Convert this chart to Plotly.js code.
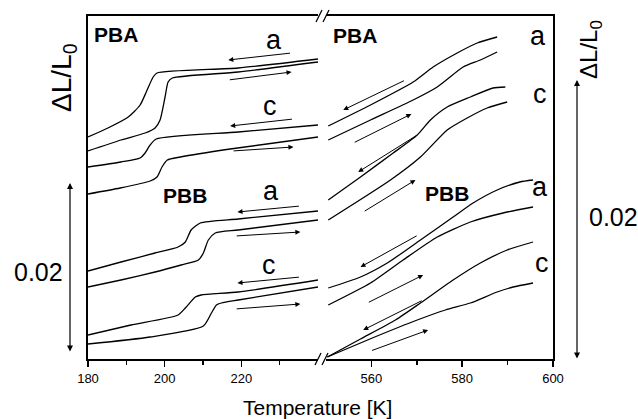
<!DOCTYPE html>
<html><head><meta charset="utf-8">
<script src="https://cdn.plot.ly/plotly-3.0.1.min.js"></script>
<style>html,body{margin:0;padding:0;background:#fff}#chart{width:638px;height:419px}</style>
</head><body><div id="chart"></div>
<script>
// Relative elongation (arbitrary vertical offset units, curves shifted for clarity)
// ---- Low-temperature panel (K) ----
const pbaA_cool_T = [180,185.2,190.5,193.6,195.2,197.0,198.0,219.2,240];
const pbaA_cool_Y = [222,231,242,254,267,282,286,291,300];
const pbaA_heat_T = [180,188.6,194.9,197.5,198.8,200.1,200.9,202.0,219.2,240];
const pbaA_heat_Y = [208,219,226,231,239,262,277,281,287,297];
const pbaC_cool_T = [180,188.6,193.6,194.9,196.2,197.8,219.2,240];
const pbaC_cool_Y = [192,197,201,206,214,220,227,234];
const pbaC_heat_T = [180,188.4,196.2,198.0,199.3,200.7,204.1,217.1,240];
const pbaC_heat_Y = [165,171,178,182,192,199,202,210,222];
const pbbA_cool_T = [180,188.6,197.5,203.5,205.4,206.9,209.3,219.2,240];
const pbbA_cool_Y = [88,97,106,112,117,129,136,140,148];
const pbbA_heat_T = [180,188.6,197.5,204.3,208.8,210.1,211.4,213.2,219.2,240];
const pbbA_heat_Y = [72,79,87,94,99,106,119,126,129,139];
const pbbC_cool_T = [180,191.2,203.5,205.4,208.0,209.5,219.2,240];
const pbbC_cool_Y = [24,34,44,51,62,64,67,79];
const pbbC_heat_T = [180,196.2,210.1,212.2,213.5,214.8,219.2,240];
const pbbC_heat_Y = [15,22,33,46,54,56,59,72];
// ---- High-temperature panel (K) ----
const pbaA_coolH_T = [550.5,559.8,569.2,573.6,578.9,583.3,587.7];
const pbaA_coolH_Y = [233,254,277,292,306,316,322];
const pbaA_heatH_T = [550.5,559.8,569.2,574.5,580.2,584.0,587.7];
const pbaA_heatH_Y = [219,239,259,272,292,299,307];
const pbaC_coolH_T = [550.5,557.6,564.8,570.1,573.0,576.7,581.8,586.8,589.5];
const pbaC_coolH_Y = [159,182,206,224,239,252,262,271,272];
const pbaC_heatH_T = [550.5,564.2,570.8,576.7,581.1,585.5,589.9];
const pbaC_heatH_Y = [139,179,202,229,241,251,257];
const pbbA_coolH_T = [550.5,557.6,563.5,570.8,578.0,582.4,587.7,592.7,595.6];
const pbbA_coolH_Y = [71,82,96,119,142,156,169,177,179];
const pbbA_heatH_T = [550.5,559.8,567.0,574.5,581.8,589.0,595.6];
const pbbA_heatH_Y = [54,76,99,122,137,146,152];
const pbbC_coolH_T = [550.3,557.6,565.3,570.8,578.0,584.0,589.9,595.6];
const pbbC_coolH_Y = [2,20,39,56,79,96,109,117];
const pbbC_heatH_T = [550.3,560.2,570.1,576.3,581.8,587.7,591.2,595.6];
const pbbC_heatH_Y = [2,21,39,49,56,67,72,76];
// Direction arrows: [tailT, tailY, headT, headY]
const arrowsLow = [
  [233.1,306,216.6,299],[216.6,279,233.1,287],
  [233.6,240,217.1,233],[217.6,208,233.6,212],
  [235.4,153,219.0,147],[218.4,123,235.4,127],
  [235.4,82,219.0,76],[218.4,50,235.4,55]
];
const arrowsHigh = [
  [567.5,279,553.8,249],[556.0,216,568.8,245],
  [570.1,224,557.1,187],[558.2,147,569.7,179],
  [570.3,124,557.6,92],[559.1,56,571.4,84],
  [571.4,59,558.2,29],[559.8,8,572.5,29]
];
// Curve labels: [text, T, Y, bold, anchor]
const labelsLow = [["PBA",181,325,true,"left"],["a",228.6,319,false,"center"],["c",227.6,253,false,"center"],
  ["PBB",205.4,164,true,"center"],["a",227.8,168,false,"center"],["c",227.3,94,false,"center"]];
const labelsHigh = [["PBA",556.5,324,true,"center"],["a",596.7,323,false,"center"],["c",597.1,265,false,"center"],
  ["PBB",576.7,166,true,"center"],["a",597.1,172,false,"center"],["c",597.6,96,false,"center"]];
const lowTicks = [180,200,220], lowMinor = [190,210,230];
const highTicks = [560,580,600], highMinor = [570,590];

const FONT = 'Arial, "Liberation Sans", sans-serif';
const ln = {color:'#000', width:1.3, shape:'spline', smoothing:0.6};
function tr(x,y,xa,ya){return {x:x,y:y,mode:'lines',line:ln,xaxis:xa,yaxis:ya,hoverinfo:'skip',showlegend:false};}
const traces = [
  tr(pbaA_cool_T,pbaA_cool_Y,'x','y'),tr(pbaA_heat_T,pbaA_heat_Y,'x','y'),
  tr(pbaC_cool_T,pbaC_cool_Y,'x','y'),tr(pbaC_heat_T,pbaC_heat_Y,'x','y'),
  tr(pbbA_cool_T,pbbA_cool_Y,'x','y'),tr(pbbA_heat_T,pbbA_heat_Y,'x','y'),
  tr(pbbC_cool_T,pbbC_cool_Y,'x','y'),tr(pbbC_heat_T,pbbC_heat_Y,'x','y'),
  tr(pbaA_coolH_T,pbaA_coolH_Y,'x2','y2'),tr(pbaA_heatH_T,pbaA_heatH_Y,'x2','y2'),
  tr(pbaC_coolH_T,pbaC_coolH_Y,'x2','y2'),tr(pbaC_heatH_T,pbaC_heatH_Y,'x2','y2'),
  tr(pbbA_coolH_T,pbbA_coolH_Y,'x2','y2'),tr(pbbA_heatH_T,pbbA_heatH_Y,'x2','y2'),
  tr(pbbC_coolH_T,pbbC_coolH_Y,'x2','y2'),tr(pbbC_heatH_T,pbbC_heatH_Y,'x2','y2')
];
const ann = [];
function addArrows(list,xa,ya){list.forEach(a=>ann.push({xref:xa,yref:ya,axref:xa,ayref:ya,x:a[2],y:a[3],ax:a[0],ay:a[1],
  text:'',showarrow:true,arrowhead:2,arrowsize:1,arrowwidth:1,arrowcolor:'#000',standoff:0,startstandoff:0}));}
addArrows(arrowsLow,'x','y'); addArrows(arrowsHigh,'x2','y2');
function addLabels(list,xa,ya){list.forEach(l=>ann.push({xref:xa,yref:ya,x:l[1],y:l[2],text:l[3]?'<b>'+l[0]+'</b>':l[0],
  showarrow:false,xanchor:l[4],yanchor:'middle',font:{family:FONT,size:l[3]?21:27,color:'#000'}}));}
addLabels(labelsLow,'x','y'); addLabels(labelsHigh,'x2','y2');
// axis-side annotations
const W=465, H=343;
ann.push({xref:'paper',yref:'paper',x:(63-88)/W,y:(359-78)/H,text:'ΔL/L<sub>0</sub>',textangle:-90,showarrow:false,xanchor:'center',yanchor:'middle',font:{family:FONT,size:28,color:'#000'}});
ann.push({xref:'paper',yref:'paper',x:(590-88)/W,y:(359-50)/H,text:'ΔL/L<sub>0</sub>',textangle:-90,showarrow:false,xanchor:'center',yanchor:'middle',font:{family:FONT,size:24,color:'#000'}});
ann.push({xref:'paper',yref:'paper',x:(38-88)/W,y:(359-272)/H,text:'0.02',showarrow:false,xanchor:'center',yanchor:'middle',font:{family:FONT,size:25,color:'#000'}});
ann.push({xref:'paper',yref:'paper',x:(613-88)/W,y:(359-217)/H,text:'0.02',showarrow:false,xanchor:'center',yanchor:'middle',font:{family:FONT,size:25,color:'#000'}});
ann.push({xref:'paper',yref:'paper',x:(317-88)/W,y:(359-407)/H,text:'Temperature [K]',showarrow:false,xanchor:'center',yanchor:'middle',font:{family:FONT,size:21,color:'#000'}});
// scale bars (double arrows)
ann.push({xref:'paper',yref:'paper',x:(70-88)/W,y:(359-183)/H,ax:0,ay:170,text:'',showarrow:true,arrowhead:2,arrowside:'end+start',arrowsize:1,arrowwidth:1.2,arrowcolor:'#000'});
ann.push({xref:'paper',yref:'paper',x:(577-88)/W,y:(359-80)/H,ax:0,ay:280,text:'',showarrow:true,arrowhead:2,arrowside:'end+start',arrowsize:1,arrowwidth:1.2,arrowcolor:'#000'});
// axis break marks
const shapes=[];
function slash(x0,y0){shapes.push({type:'line',xref:'paper',yref:'paper',x0:(x0-88)/W,y0:(359-y0)/H,x1:(x0+6-88)/W,y1:(359-y0+12)/H,line:{color:'#000',width:1.3}});}
slash(316,22);slash(323,22);slash(315,365);slash(322,365);

const axCommon = {showline:true,linewidth:2,linecolor:'#000',mirror:true,showgrid:false,zeroline:false,
  ticks:'outside',ticklen:6,tickwidth:1.5,tickcolor:'#000',tickfont:{family:FONT,size:13,color:'#000'}};
const layout = {
  width:638,height:419,margin:{l:88,r:85,t:16,b:60},paper_bgcolor:'#fff',plot_bgcolor:'#fff',showlegend:false,
  xaxis:Object.assign({},axCommon,{domain:[0,0.4946],range:[180,240],tickmode:'array',tickvals:lowTicks,
    minor:{tickmode:'array',tickvals:lowMinor,ticks:'outside',ticklen:4,tickwidth:1.5,tickcolor:'#000'},anchor:'y'}),
  xaxis2:Object.assign({},axCommon,{domain:[0.5118,1],range:[550,600],tickmode:'array',tickvals:highTicks,
    minor:{tickmode:'array',tickvals:highMinor,ticks:'outside',ticklen:4,tickwidth:1.5,tickcolor:'#000'},anchor:'y2'}),
  yaxis:{range:[0,343],domain:[0,1],showline:true,linewidth:2,linecolor:'#000',ticks:'',showticklabels:false,showgrid:false,zeroline:false,anchor:'x'},
  yaxis2:{range:[0,343],domain:[0,1],showline:true,linewidth:2,linecolor:'#000',ticks:'',showticklabels:false,showgrid:false,zeroline:false,anchor:'x2',side:'right'},
  annotations:ann,shapes:shapes
};
Plotly.newPlot('chart',traces,layout,{staticPlot:true,displayModeBar:false});
</script></body></html>
